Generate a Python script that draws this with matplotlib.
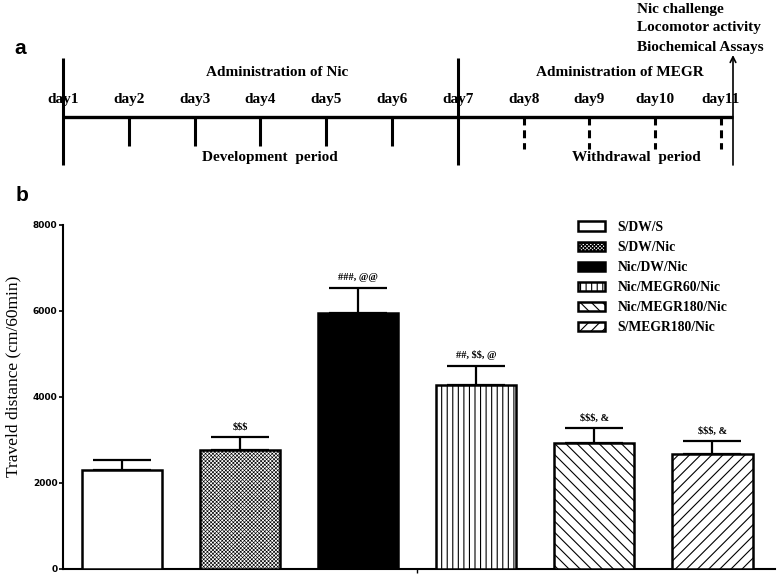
import matplotlib
matplotlib.use('Agg')
import matplotlib.pyplot as plt
from matplotlib.patches import Patch
import numpy as np

# ---- data ----
groups = ['S/DW/S', 'S/DW/Nic', 'Nic/DW/Nic', 'Nic/MEGR60/Nic', 'Nic/MEGR180/Nic', 'S/MEGR180/Nic']
means = [2300, 2760, 5960, 4280, 2920, 2670]
sems = [235, 310, 580, 440, 350, 300]
sig_labels = ['', r'\$\$\$', '###, @@', r'##, \$\$, @', r'\$\$\$, &', r'\$\$\$, &']
yticks = [0, 2000, 4000, 6000, 8000]
day_numbers = list(range(1, 12))
day_labels = [f'day{d}' for d in day_numbers]

# ---- styles ----
hatches = ['', 'xxxxxxxxx', '', '|||', '\\\\\\', '///']
hatch_lw = [0.8, 0.45, 0.8, 0.8, 0.8, 0.8]
facecolors = ['white', 'white', 'black', 'white', 'white', 'white']
SERIF = 'Liberation Serif'
plt.rcParams['hatch.linewidth'] = 0.8

W, H = 778, 576
fig = plt.figure(figsize=(W / 100, H / 100), dpi=100)

# ---------------- panel a: timeline ----------------
axt = fig.add_axes([0, 1 - 180 / H, 1, 180 / H])
px_per_day = 65.8
x0 = 63
axt.set_xlim(1 - x0 / px_per_day, 1 + (W - x0) / px_per_day)
axt.set_ylim(180, 0)
axt.axis('off')

def dx(px):
    return 1 + (px - x0) / px_per_day

FS = 11
arrow_x = dx(733)
axt.plot([day_numbers[0], arrow_x], [117, 117], color='black', lw=2.4, solid_capstyle='butt')
for d, lab in zip(day_numbers, day_labels):
    if d in (1, 7):
        axt.plot([d, d], [58, 165], color='black', lw=2.2, solid_capstyle='butt')
    elif d < 7:
        axt.plot([d, d], [117, 146], color='black', lw=2.2, solid_capstyle='butt')
    else:
        axt.plot([d, d], [117, 149], color='black', lw=2.2, linestyle=(0, (2.6, 1.6)),
                 dash_capstyle='butt')
    axt.text(d, 99, lab, ha='center', va='center', family=SERIF, fontweight='bold', fontsize=FS)

axt.annotate('', xy=(arrow_x, 55), xytext=(arrow_x, 165),
             arrowprops=dict(arrowstyle='->', lw=1.2, color='black', mutation_scale=10,
                             shrinkA=0, shrinkB=0))
axt.text(dx(277), 73, 'Administration of Nic', ha='center', va='center', family=SERIF,
         fontweight='bold', fontsize=FS)
axt.text(dx(270), 158, 'Development  period', ha='center', va='center', family=SERIF,
         fontweight='bold', fontsize=FS)
axt.text(dx(620), 73, 'Administration of MEGR', ha='center', va='center', family=SERIF,
         fontweight='bold', fontsize=FS)
axt.text(dx(636), 158, 'Withdrawal  period', ha='center', va='center', family=SERIF,
         fontweight='bold', fontsize=FS)
for yy, t in zip([9, 28, 48], ['Nic challenge', 'Locomotor activity', 'Biochemical Assays']):
    axt.text(dx(637), yy, t, ha='left', va='center', family=SERIF, fontweight='bold', fontsize=FS)

fig.text(20 / W, 1 - 48 / H, 'a', ha='center', va='center', fontsize=15, fontweight='bold',
         family='Liberation Sans')
fig.text(22 / W, 1 - 195 / H, 'b', ha='center', va='center', fontsize=15, fontweight='bold',
         family='Liberation Sans')

# ---------------- panel b: bars ----------------
ax = fig.add_axes([63 / W, 1 - 569 / H, (775 - 63) / W, (569 - 225) / H])
x = np.arange(len(groups)) + 0.5
for xi, m, fc, h, hl in zip(x, means, facecolors, hatches, hatch_lw):
    b = ax.bar(xi, m, width=0.68, color=fc, edgecolor='black', linewidth=1.8, hatch=h, zorder=3)
    for p in b:
        try:
            p.set_hatch_linewidth(hl)
        except Exception:
            pass
ax.errorbar(x, means, yerr=[np.zeros(len(sems)), sems], fmt='none', ecolor='black',
            elinewidth=1.6, capsize=21, capthick=1.6, zorder=2)
for xi, m, e, lab in zip(x, means, sems, sig_labels):
    if lab:
        ax.annotate(lab, (xi, m + e), xytext=(0, 4), textcoords='offset points', ha='center',
                    va='bottom', family=SERIF, fontweight='bold', fontsize=7.5)

ax.set_xlim(0, 6.03)
ax.set_ylim(0, 8000)
ax.set_yticks(yticks)
ax.set_yticklabels([str(v) for v in yticks], fontweight='bold', fontsize=6.5)
ax.set_xticks([3])
ax.set_xticklabels([''])
ax.tick_params(axis='y', direction='out', length=3, width=1.2, pad=1)
ax.tick_params(axis='x', direction='out', length=3, width=1.0)
for s in ['top', 'right']:
    ax.spines[s].set_visible(False)
for s in ['left', 'bottom']:
    ax.spines[s].set_linewidth(1.5)
ax.patch.set_alpha(0)

fig.text(13 / W, 1 - 376 / H, 'Traveld distance (cm/60min)', rotation=90, ha='center',
         va='center', family=SERIF, fontsize=12.5)

handles = []
for fc, h, hl in zip(facecolors, hatches, hatch_lw):
    p = Patch(facecolor=fc, edgecolor='black', hatch=h, linewidth=1.8)
    try:
        p.set_hatch_linewidth(hl)
    except Exception:
        pass
    handles.append(p)
fig.legend(handles, groups, loc='upper left', bbox_to_anchor=(578 / W, 1 - 221 / H),
           frameon=False, prop={'family': SERIF, 'weight': 'bold', 'size': 9.8},
           handlelength=2.0, handleheight=0.7, labelspacing=0.52, handletextpad=0.9,
           borderpad=0, borderaxespad=0)

fig.savefig('out.png', dpi=100)
